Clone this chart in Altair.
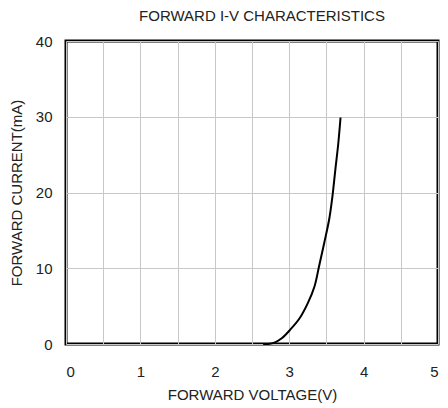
import altair as alt
import pandas as pd

voltage = [2.65, 2.72, 2.81, 2.90, 3.01, 3.14, 3.25, 3.34, 3.40, 3.47, 3.54, 3.58, 3.62, 3.66, 3.69]
current = [0.0, 0.0, 0.22, 0.75, 1.85, 3.4, 5.4, 7.6, 10.2, 13.3, 16.6, 19.4, 23.0, 26.5, 29.9]
x_ticks = [0, 0.5, 1, 1.5, 2, 2.5, 3, 3.5, 4, 4.5, 5]
y_ticks = [0, 10, 20, 30, 40]

df = pd.DataFrame({"v": voltage, "i": current})

font = "Liberation Sans"
txt = "#222222"

chart = alt.Chart(df).mark_line(color="black", strokeWidth=2, interpolate="catmull-rom").encode(
    x=alt.X("v:Q", scale=alt.Scale(domain=[0, 5], nice=False),
            axis=alt.Axis(values=x_ticks, title="FORWARD VOLTAGE(V)",
                          labelExpr="datum.value % 1 == 0 ? format(datum.value, 'd') : ''",
                          ticks=False, domain=False, labelPadding=20,
                          titleY=55, titleBaseline="alphabetic")),
    y=alt.Y("i:Q", scale=alt.Scale(domain=[0, 40], nice=False),
            axis=alt.Axis(values=y_ticks, title="FORWARD CURRENT(mA)",
                          ticks=False, domain=False, labelPadding=14,
                          titlePadding=11)),
).properties(
    width=372, height=303,
    title=alt.TitleParams("FORWARD I-V CHARACTERISTICS", fontSize=15, font=font,
                          fontWeight="normal", color=txt, offset=10, dx=10),
    autosize=alt.AutoSizeParams(type="none"),
    padding={"left": 58, "top": 33, "right": 2, "bottom": 60},
).configure_view(
    stroke="black", strokeWidth=3
).configure_axis(
    labelFont=font, titleFont=font, labelFontSize=15, titleFontSize=15,
    labelColor=txt, titleColor=txt, titleFontWeight="normal",
    gridColor="#c8c8c8", gridWidth=1, gridOpacity=1,
)

chart.save("out.html", embed_options={"renderer": "svg", "actions": False})
